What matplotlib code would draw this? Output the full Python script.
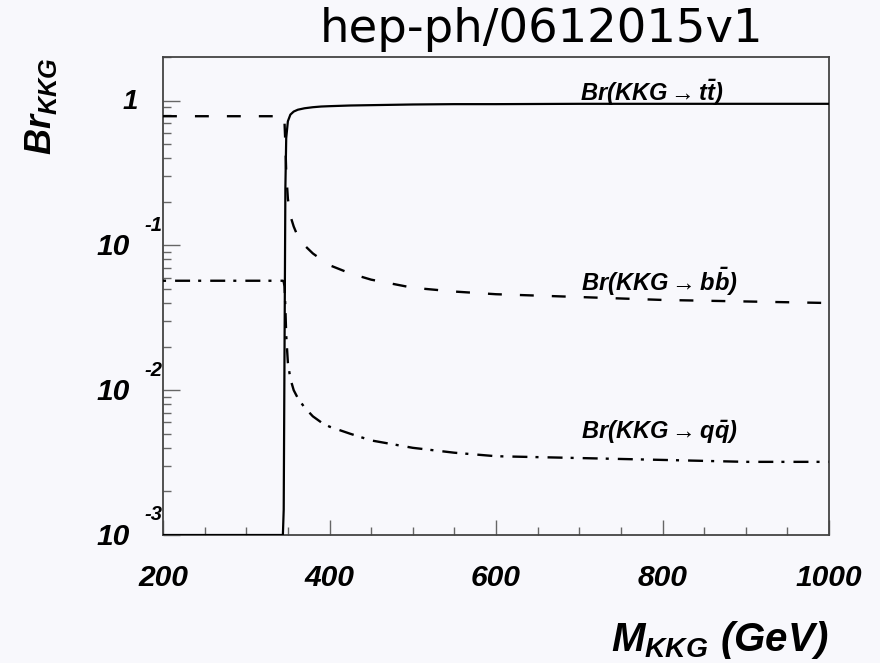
"""
Branching ratios of the KK gluon into tt, bb and light qq pairs vs its mass.
"""
import numpy as np
import matplotlib
matplotlib.use("Agg")
import matplotlib.pyplot as plt
from matplotlib.font_manager import FontProperties
from matplotlib.ticker import FixedLocator, MultipleLocator, LogLocator, NullFormatter
from matplotlib.transforms import offset_copy

# M_KKG grid (GeV) and the three branching ratios
M_KKG = [200, 250, 300, 344, 345, 346, 347, 348, 350, 353, 357, 362, 370, 380,
         390, 400, 425, 450, 500, 550, 600, 700, 800, 900, 1000]
BR_TT = [0, 0, 0, 0, 0.0015, 0.02, 0.25, 0.55, 0.72, 0.80, 0.84, 0.865, 0.885,
         0.90, 0.91, 0.915, 0.925, 0.93, 0.94, 0.945, 0.945, 0.95, 0.95, 0.95, 0.95]
BR_BB = [0.78, 0.78, 0.78, 0.78, 0.77, 0.70, 0.50, 0.32, 0.21, 0.16, 0.135,
         0.115, 0.10, 0.088, 0.080, 0.073, 0.064, 0.058, 0.051, 0.048, 0.046,
         0.044, 0.042, 0.041, 0.040]
BR_QQ = [0.057, 0.057, 0.057, 0.057, 0.056, 0.052, 0.037, 0.024, 0.0155, 0.012,
         0.0100, 0.0088, 0.0076, 0.0066, 0.0060, 0.0056, 0.0050, 0.0045, 0.0040,
         0.0037, 0.0035, 0.0034, 0.0033, 0.0032, 0.0032]

X_TICKS = [200, 400, 600, 800, 1000]
Y_TICKS = [1e-3, 1e-2, 1e-1, 1.0]
Y_EXP = ["-3", "-2", "-1", None]
XLIM = (200, 1000)
YLIM = (1e-3, 2.0)

BG = "#f8f8fc"
plt.rcParams["mathtext.fontset"] = "custom"
plt.rcParams["mathtext.rm"] = "Liberation Sans:bold:italic"
plt.rcParams["mathtext.it"] = "Liberation Sans:bold:italic"
plt.rcParams["mathtext.bf"] = "Liberation Sans:bold:italic"
plt.rcParams["lines.scale_dashes"] = False

root_font = dict(family="Liberation Sans", weight="bold", style="italic")

fig = plt.figure(figsize=(8.8, 6.63), dpi=100, facecolor=BG)
ax = fig.add_axes([163 / 880, 1 - 535 / 663, 666 / 880, 478 / 663], facecolor=BG)
ax.set_yscale("log")
ax.set_xlim(*XLIM)
ax.set_ylim(*YLIM)

# values below the frame sit on the lower edge, as ROOT draws them
tt = np.clip(np.array(BR_TT, dtype=float), YLIM[0], None)
ax.plot(M_KKG, tt, color="black", lw=1.6, solid_joinstyle="round", zorder=4)
ax.plot(M_KKG, BR_BB, color="black", lw=1.7, dashes=(10, 13), zorder=3)
ax.plot(M_KKG, BR_QQ, color="black", lw=1.7, dashes=(2.2, 6.5, 10.8, 5.8), zorder=3)

lab_kw = dict(fontsize=17, color="black", ha="left", va="center")
ax.text(580 / 880, 1 - 93 / 663, r"$Br(KKG \rightarrow t\bar{t})$",
        transform=fig.transFigure, **lab_kw)
ax.text(581 / 880, 1 - 282 / 663, r"$Br(KKG \rightarrow b\bar{b})$",
        transform=fig.transFigure, **lab_kw)
ax.text(581 / 880, 1 - 432 / 663, r"$Br(KKG \rightarrow q\bar{q})$",
        transform=fig.transFigure, **lab_kw)

# frame and ticks
for s in ax.spines.values():
    s.set_color("#444444")
    s.set_linewidth(1.3)
ax.xaxis.set_major_locator(FixedLocator(X_TICKS))
ax.xaxis.set_minor_locator(MultipleLocator(50))
ax.yaxis.set_major_locator(FixedLocator(Y_TICKS))
ax.yaxis.set_minor_locator(LogLocator(base=10, subs=np.arange(2, 10)))
ax.yaxis.set_minor_formatter(NullFormatter())
ax.set_yticklabels([])
ax.tick_params(which="both", direction="in", color="#666666", width=1.0)
ax.tick_params(axis="x", which="major", length=11, pad=21)
ax.tick_params(axis="x", which="minor", length=5.8)
ax.tick_params(axis="y", which="major", length=12)
ax.tick_params(axis="y", which="minor", length=5.8)
ax.set_xticklabels([str(v) for v in X_TICKS],
                   fontproperties=FontProperties(size=21.6, **root_font))

# ROOT-style 10^n labels: big mantissa, exponent pushed up against the axis
ytr = ax.get_yaxis_transform()
for val, ex in zip(Y_TICKS, Y_EXP):
    if ex is None:
        t = offset_copy(ytr, fig=fig, x=-25, y=-1, units="dots")
        ax.text(0, val, "1", transform=t, ha="right", va="center",
                fontsize=20, **root_font)
        continue
    t = offset_copy(ytr, fig=fig, x=-33, y=-2, units="dots")
    ax.text(0, val, "10", transform=t, ha="right", va="center",
            fontsize=21.6, **root_font)
    t = offset_copy(ytr, fig=fig, x=-1, y=20, units="dots")
    ax.text(0, val, ex, transform=t, ha="right", va="center",
            fontsize=14.5, **root_font)

fig.text(41 / 880, 1 - 57 / 663, r"$Br_{KKG}$", rotation=90, fontsize=26,
         ha="center", va="top")
fig.text(828 / 880, 1 - 640 / 663, r"$M_{KKG}\ (GeV)$", fontsize=29,
         ha="right", va="center")

fig.text(0.615, 1 - 42 / 663, "hep-ph/0612015v1", fontsize=33.5,
         family="DejaVu Sans", ha="center", va="baseline")

fig.savefig("out.png", dpi=100, facecolor=BG)
